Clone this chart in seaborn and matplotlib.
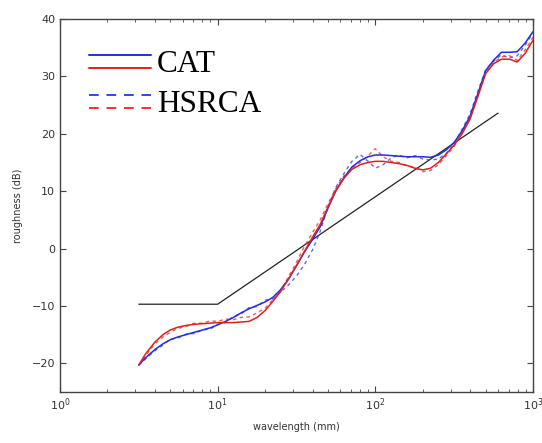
import numpy as np
import pandas as pd
import matplotlib
matplotlib.use("Agg")
import matplotlib.pyplot as plt
from matplotlib.lines import Line2D
from matplotlib.legend_handler import HandlerBase
from matplotlib.ticker import LogLocator, FixedLocator
import seaborn as sns

wavelength = [3.16, 3.5, 4, 4.5, 5, 5.6, 6.3, 7.1, 8, 9,
              10, 11.2, 12.6, 14.1, 15.8, 17.8, 20, 22.4, 25, 28,
              31.6, 35.5, 40, 44.7, 50, 56, 63, 71, 80, 90,
              100, 112, 126, 141, 158, 178, 200, 224, 251, 282,
              316, 355, 398, 447, 501, 562, 631, 708, 794, 891, 1000]

cat_blue = [-20.3, -19.0, -17.6, -16.6, -15.9, -15.4, -15.0, -14.6, -14.2, -13.8,
            -13.3, -12.7, -12.0, -11.2, -10.5, -9.9, -9.3, -8.5, -7.2, -5.4,
            -3.0, -0.6, 1.6, 3.8, 7.0, 10.0, 12.3, 14.2, 15.3, 16.0,
            16.3, 16.3, 16.2, 16.1, 16.0, 16.0, 16.0, 15.9, 16.3, 17.2,
            18.5, 20.5, 23.0, 27.0, 31.0, 32.8, 34.2, 34.2, 34.3, 35.8, 37.8]

cat_red = [-20.3, -18.3, -16.3, -15.0, -14.2, -13.7, -13.4, -13.2, -13.1, -13.0,
           -12.9, -12.9, -12.9, -12.8, -12.7, -12.0, -10.8, -9.2, -7.5, -5.4,
           -3.0, -0.5, 2.0, 4.2, 7.2, 10.0, 12.2, 13.8, 14.6, 15.0,
           15.2, 15.2, 15.0, 14.8, 14.5, 14.0, 13.7, 14.0, 15.0, 16.5,
           18.0, 20.0, 22.5, 26.5, 30.5, 32.2, 33.0, 33.0, 32.5, 34.0, 36.3]

hsrca_blue = [-20.3, -19.2, -17.8, -16.8, -15.8, -15.6, -14.9, -14.8, -14.2, -14.0,
              -13.2, -12.9, -11.8, -11.4, -10.3, -10.1, -9.0, -8.8, -7.6, -6.4,
              -4.8, -2.8, -0.2, 3.0, 7.2, 10.6, 13.0, 15.2, 16.4, 15.2,
              14.0, 14.6, 15.8, 16.3, 15.8, 16.2, 15.6, 15.4, 15.6, 16.6,
              18.2, 20.8, 23.4, 27.4, 31.2, 32.6, 33.8, 33.2, 33.6, 35.4, 37.6]

hsrca_red = [-20.3, -18.6, -16.6, -15.4, -14.6, -13.9, -13.6, -13.0, -13.0, -12.6,
             -12.7, -12.3, -12.4, -12.0, -11.9, -11.2, -10.4, -8.9, -7.6, -5.0,
             -2.4, 0.4, 2.8, 5.0, 7.8, 10.4, 12.6, 14.0, 15.0, 16.2,
             17.4, 16.0, 15.2, 15.0, 14.4, 14.2, 13.4, 13.6, 14.6, 16.2,
             17.8, 20.2, 22.8, 26.8, 30.8, 32.4, 33.4, 33.6, 32.8, 34.6, 36.8]

# reference (black) line
ref_wavelength = [3.16, 10, 600]
ref_roughness = [-9.7, -9.7, 23.6]


class PairHandler(HandlerBase):
    # two lines stacked above each other for one legend label
    def create_artists(self, legend, orig_handle, xdescent, ydescent,
                       width, height, fontsize, trans):
        out = []
        for i, h in enumerate(orig_handle):
            yy = height / 2 - ydescent + (0.21 - 0.42 * i) * fontsize
            ln = Line2D([-xdescent, -xdescent + width], [yy, yy])
            ln.update_from(h)
            ln.set_transform(trans)
            out.append(ln)
        return out


sns.set_style("ticks", {"xtick.direction": "in", "ytick.direction": "in",
                        "axes.edgecolor": "#444444"})
plt.rcParams["font.family"] = ["DejaVu Sans"]

fig = plt.figure(figsize=(5.42, 4.43), dpi=100)
ax = fig.add_axes([0.1107, 0.1151, 0.8727, 0.842])

sns.lineplot(x=ref_wavelength, y=ref_roughness, ax=ax, color="#222222", lw=0.9)
sns.lineplot(x=wavelength, y=hsrca_blue, ax=ax, color="#3344ee", lw=1.0,
             linestyle=(0, (2.5, 2.5)), alpha=0.8)
sns.lineplot(x=wavelength, y=hsrca_red, ax=ax, color="#ee3333", lw=1.0,
             linestyle=(0, (2.5, 2.5)), alpha=0.8)
sns.lineplot(x=wavelength, y=cat_blue, ax=ax, color="#1f2ee0", lw=1.1)
sns.lineplot(x=wavelength, y=cat_red, ax=ax, color="#e02020", lw=1.1)

ax.set_xscale("log")
ax.set_xlim(1, 1000)
ax.set_ylim(-25, 40)
ax.yaxis.set_major_locator(FixedLocator([-20, -10, 0, 10, 20, 30, 40]))
ax.xaxis.set_major_locator(LogLocator(base=10, numticks=10))
ax.xaxis.set_minor_locator(LogLocator(base=10, subs=np.arange(2, 10), numticks=20))
ax.tick_params(which="both", top=True, right=True, colors="#444444",
               labelcolor="#333333", labelsize=8)
ax.tick_params(which="major", length=4)
ax.tick_params(which="minor", length=2.5)
for s in ax.spines.values():
    s.set_linewidth(1.0)

ax.set_xlabel("wavelength (mm)", fontsize=7, color="#333333", labelpad=6)
ax.set_ylabel("roughness (dB)", fontsize=7, color="#333333", labelpad=6)

# legend handles
cat_pair = (Line2D([], [], color="#1f2ee0", lw=1.4), Line2D([], [], color="#e02020", lw=1.4))
hsr_pair = (Line2D([], [], color="#3344ee", lw=1.4, linestyle=(0, (5, 4))),
            Line2D([], [], color="#ee3333", lw=1.4, linestyle=(0, (5, 4))))
leg = ax.legend([cat_pair, hsr_pair], ["CAT", "HSRCA"],
                handler_map={tuple: PairHandler()},
                loc="upper left", bbox_to_anchor=(0.061, 0.916), frameon=False,
                prop={"family": "Liberation Serif", "size": 22.5},
                handlelength=2.0, handletextpad=0.17, labelspacing=0.35,
                borderpad=0.0, borderaxespad=0.0)
for t in leg.get_texts():
    t.set_color("black")

fig.savefig("out.png", dpi=100)
